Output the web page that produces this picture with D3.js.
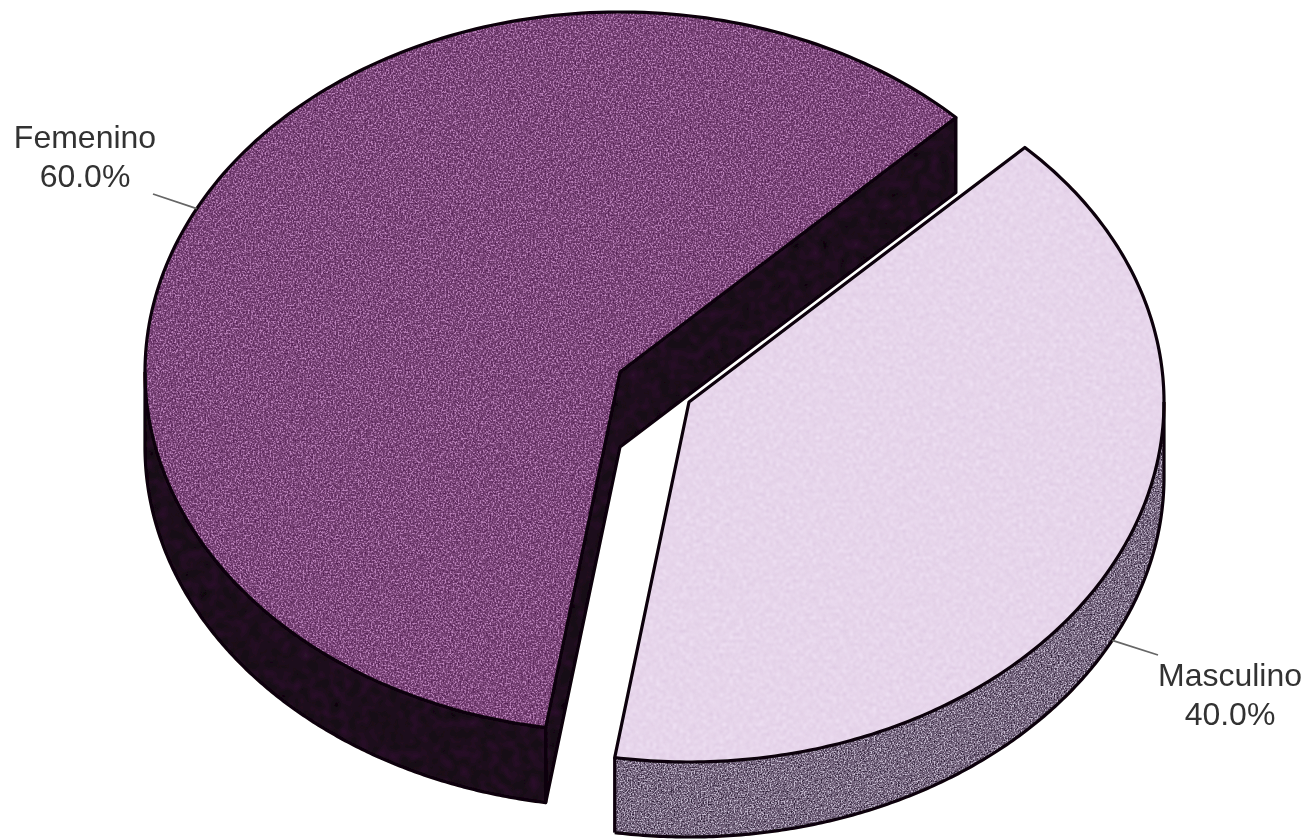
<!DOCTYPE html>
<html>
<head>
<meta charset="utf-8">
<script src="https://cdn.jsdelivr.net/npm/d3@7/dist/d3.min.js"></script>
<style>
html,body{margin:0;padding:0;background:#fff;overflow:hidden}
svg{display:block}
text{font-family:"Liberation Sans",Arial,sans-serif;font-size:32px;fill:#333;text-anchor:middle}
</style>
</head>
<body>
<svg id="chart" width="1312" height="839"></svg>
<script>
const categories = ["Femenino", "Masculino"];
const values = [60, 40];
const valueLabels = ["60.0%", "40.0%"];
const topColors = ["#743f72", "#e5d3e9"];
const wallColors = ["#1c0a1b", "#6f5f78"];
const firstSliceStartDeg = 189;
const centers = [[620, 372], [689, 402]];
const radiusX = 475, radiusY = 360, depth = 75;
const labelAnchors = [[85, 148], [1230, 686]];
const leaderEnds = [[153, 194], [1158, 655]];

const svg = d3.select("#chart");
const defs = svg.append("defs");

function grain(id, freq, seed, light, dark, blur) {
  const f = defs.append("filter").attr("id", id).attr("x", 0).attr("y", 0)
    .attr("width", 1).attr("height", 1).attr("color-interpolation-filters", "sRGB");
  f.append("feTurbulence").attr("type", "fractalNoise").attr("baseFrequency", freq)
    .attr("numOctaves", 2).attr("seed", seed).attr("result", "n");
  const layer = (spec, r) => {
    f.append("feColorMatrix").attr("in", "n").attr("type", "matrix")
      .attr("values", `0 0 0 0 ${spec.rgb[0]} 0 0 0 0 ${spec.rgb[1]} 0 0 0 0 ${spec.rgb[2]} ${spec.k} 0 0 0 ${spec.b}`)
      .attr("result", r + "a");
    f.append("feGaussianBlur").attr("in", r + "a").attr("stdDeviation", blur).attr("result", r + "b");
    f.append("feComposite").attr("in", r + "b").attr("in2", "SourceAlpha").attr("operator", "in").attr("result", r);
  };
  layer(light, "lt");
  layer(dark, "dk");
  const m = f.append("feMerge");
  m.append("feMergeNode").attr("in", "SourceGraphic");
  m.append("feMergeNode").attr("in", "dk");
  m.append("feMergeNode").attr("in", "lt");
}
grain("gTop0", 0.6, 3, {rgb:[0.74,0.52,0.74],k:4.5,b:-2.2}, {rgb:[0.32,0.12,0.32],k:-4.5,b:2.0}, 0.5);
grain("gTop1", 0.3, 7, {rgb:[0.95,0.90,0.97],k:3,b:-1.4}, {rgb:[0.82,0.72,0.86],k:-3,b:1.1}, 0.8);
grain("gWall0", 0.1, 5, {rgb:[0.17,0.07,0.17],k:3,b:-1.4}, {rgb:[0.05,0.02,0.05],k:-3,b:1.3}, 0.9);
grain("gWall1", 0.7, 9, {rgb:[0.78,0.74,0.82],k:5,b:-2.5}, {rgb:[0.16,0.11,0.2],k:-5,b:2.2}, 0.45);
defs.append("filter").attr("id", "soft").append("feGaussianBlur").attr("stdDeviation", 0.55);

const pie = d3.pie().sort(null)
  .startAngle(firstSliceStartDeg * Math.PI / 180)
  .endAngle((firstSliceStartDeg + 360) * Math.PI / 180);
const TAU = 2 * Math.PI;
// Angles run clockwise from the top; a slice past a full turn is brought back
const arcs = pie(values).map(d => d.startAngle >= TAU
  ? {...d, startAngle: d.startAngle - TAU, endAngle: d.endAngle - TAU} : d);

const project = (c, a, dz = 0) => [c[0] + radiusX * Math.sin(a), c[1] - radiusY * Math.cos(a) + dz];
const line = d3.line();
const sample = (a0, a1) => d3.range(0, 201).map(i => a0 + (a1 - a0) * i / 200);
const down = p => [p[0], p[1] + depth];
const outline = (c, d) => [c, ...sample(d.startAngle, d.endAngle).map(a => project(c, a))];
const rimOf = d => [Math.max(d.startAngle, Math.PI / 2), Math.min(d.endAngle, 3 * Math.PI / 2)];

const layer = svg.append("g").attr("filter", "url(#soft)");

arcs.forEach((d, i) => {
  const c = centers[i];
  const g = layer.append("g").attr("class", "slice");
  const start = project(c, d.startAngle), end = project(c, d.endAngle);
  const rim = rimOf(d);
  const rimTop = sample(rim[0], rim[1]).map(a => project(c, a));
  const rimBottom = rimTop.map(down);
  const rimWall = [...rimTop, ...rimBottom.slice().reverse()];

  const walls = g.append("g").attr("filter", `url(#gWall${i})`);
  const faces = i === 0
    ? [rimWall, [c, start, down(start), down(c)], [c, end, down(end), down(c)]]
    : [rimWall];
  faces.forEach(f => walls.append("path").attr("d", line(f) + "Z").attr("fill", wallColors[i]));

  g.append("path").attr("d", line(outline(c, d)) + "Z").attr("fill", topColors[i])
    .attr("filter", `url(#gTop${i})`);

  const ink = g.append("g").attr("fill", "none").attr("stroke", "#0b0508")
    .attr("stroke-width", 3.2).attr("stroke-linejoin", "round");
  ink.append("path").attr("d", line(outline(c, d)) + "Z");
  ink.append("path").attr("d", line(rimBottom));
  ink.append("path").attr("d", line([rimTop[0], rimBottom[0]]));
  ink.append("path").attr("d", line([rimTop[200], rimBottom[200]]));
  if (i === 0) {
    ink.append("path").attr("d", line([end, down(end), down(c), down(start), start]));
  }

  const mid = (d.startAngle + d.endAngle) / 2;
  const from = project(c, mid, i === 1 ? depth : 0);
  layer.append("line").attr("x1", from[0]).attr("y1", from[1])
    .attr("x2", leaderEnds[i][0]).attr("y2", leaderEnds[i][1])
    .attr("stroke", "#666").attr("stroke-width", 1.8);
  layer.append("text").attr("x", labelAnchors[i][0]).attr("y", labelAnchors[i][1]).text(categories[i]);
  layer.append("text").attr("x", labelAnchors[i][0]).attr("y", labelAnchors[i][1] + 39).text(valueLabels[i]);
});
</script>
</body>
</html>
